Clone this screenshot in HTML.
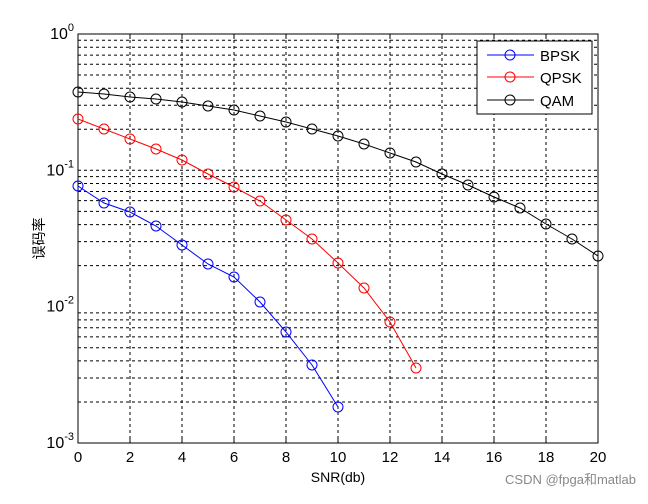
<!DOCTYPE html>
<html><head><meta charset="utf-8"><style>
body{margin:0;background:#fff;width:648px;height:499px;overflow:hidden}
text{font-family:"Liberation Sans","Noto Sans CJK SC",sans-serif}
</style></head><body>
<svg id="s" width="648" height="499" xmlns="http://www.w3.org/2000/svg"></svg>
<script>
const s=document.getElementById('s');
const L=78,R=598,T=34,B=443,D=(B-T)/3;
let h='<rect width="648" height="499" fill="#fff"/>';
const X=v=>L+v*26;
for(let v=2;v<20;v+=2)h+=`<line x1="${X(v)}" y1="${T}" x2="${X(v)}" y2="${B}" stroke="#000" stroke-dasharray="3,3" stroke-width="1"/>`;
for(let d=0;d<3;d++)for(let k=2;k<=10;k++){if(d==0&&k==10)continue;const y=B-d*D-Math.log10(k)*D;h+=`<line x1="${L}" y1="${y.toFixed(1)}" x2="${R}" y2="${y.toFixed(1)}" stroke="#000" stroke-dasharray="3,3" stroke-width="1"/>`;}
h+=`<rect x="${L}" y="${T}" width="${R-L}" height="${B-T}" fill="none" stroke="#000" stroke-width="1"/>`;
for(let v=0;v<=20;v+=2){h+=`<line x1="${X(v)}" y1="${B}" x2="${X(v)}" y2="${B-5}" stroke="#000"/><line x1="${X(v)}" y1="${T}" x2="${X(v)}" y2="${T+5}" stroke="#000"/>`;h+=`<text x="${X(v)}" y="${B+19}" font-size="15" text-anchor="middle">${v}</text>`;}
for(let d=0;d<=3;d++){const y=T+d*D;h+=`<text x="${L-4}" y="${y+5}" font-size="16" text-anchor="end">10<tspan dy="-8" font-size="11">${d?'-'+d:'0'}</tspan></text>`;}
h+=`<text x="${(L+R)/2}" y="482" font-size="14" text-anchor="middle">SNR(db)</text>`;
h+=`<text transform="translate(44,${(T+B)/2}) rotate(-90)" font-size="14" text-anchor="middle">误码率</text>`;
const S=[["#00f",[186,203,212,226,245,264,277,302,332,365,407]],["#f00",[119,129,139,149,160,174,187,201,220,239,263,288,322,368]],["#000",[92,94,97,99,102,106,110,116,122,129,136,144,153,162,174,185,197,208,224,239,256]]];
for(const [c,a] of S){h+=`<polyline fill="none" stroke="${c}" points="${a.map((y,i)=>X(i)+','+y).join(' ')}"/>`;a.forEach((y,i)=>h+=`<circle cx="${X(i)}" cy="${y}" r="5" fill="none" stroke="${c}"/>`);}
h+=`<rect x="477" y="41" width="115" height="73" fill="#fff" stroke="#000"/>`;
[["#00f","BPSK",55],["#f00","QPSK",77],["#000","QAM",100]].forEach(([c,t,y])=>{h+=`<line x1="487" y1="${y}" x2="534" y2="${y}" stroke="${c}"/><circle cx="510" cy="${y}" r="5" fill="none" stroke="${c}"/><text x="540" y="${y+6}" font-size="15">${t}</text>`;});
h+=`<text x="636" y="484" font-size="13" fill="#888" text-anchor="end">CSDN @fpga和matlab</text>`;
s.innerHTML=h;
</script>
</body></html>
